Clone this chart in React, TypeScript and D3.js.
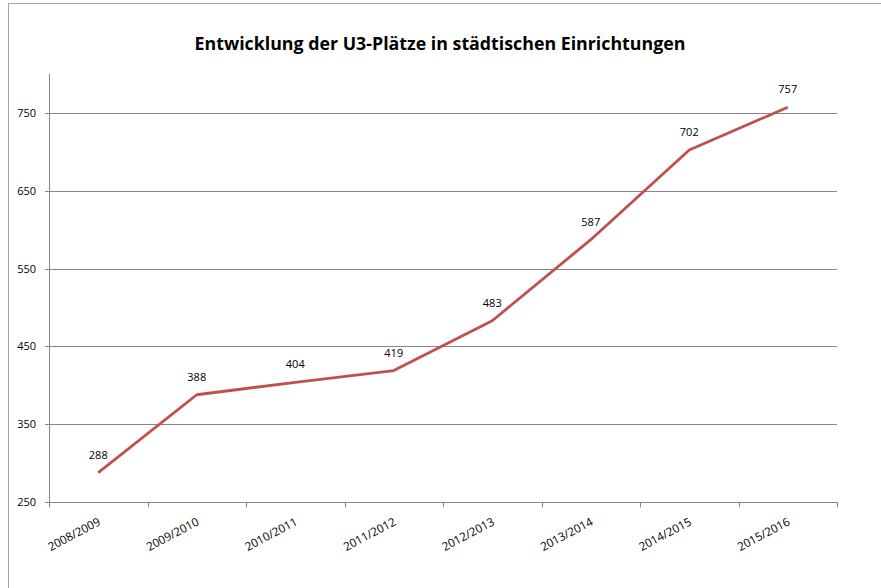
import React from "react";
import * as d3 from "d3";

const categories = ["2008/2009", "2009/2010", "2010/2011", "2011/2012", "2012/2013", "2013/2014", "2014/2015", "2015/2016"];
const values = [288, 388, 404, 419, 483, 587, 702, 757];
const yTicks = [250, 350, 450, 550, 650, 750];
const title = "Entwicklung der U3-Plätze in städtischen Einrichtungen";

export default function App() {
  const W = 881, H = 588;
  const left = 49, right = 837, top = 73.7, bottom = 502.3;
  const x = d3.scaleBand<string>().domain(categories).range([left, right]);
  const y = d3.scaleLinear().domain([250, 800]).range([bottom, top]);
  const cx = (c: string) => (x(c) as number) + x.bandwidth() / 2;
  const line = d3.line<number>().x((_, i) => cx(categories[i])).y((v) => y(v));
  const font = "'Open Sans', sans-serif";
  const tickX = categories.map((c) => x(c) as number).concat([right]);
  return (
    <svg width={W} height={H} style={{ position: "absolute", left: 0, top: 0 }} fontFamily={font}>
      <rect x={0} y={0} width={W} height={H} fill="#fff" />
      <rect x={8.5} y={3.5} width={W + 20} height={H + 20} fill="none" stroke="#a6a6a6" strokeWidth={1} />
      <text x={440} y={50} textAnchor="middle" fontSize={17.8} fontWeight="bold" fill="#000">{title}</text>
      {yTicks.slice(1).map((t) => (
        <line key={t} x1={left} x2={right} y1={Math.round(y(t)) + 0.5} y2={Math.round(y(t)) + 0.5} stroke="#868686" strokeWidth={1} />
      ))}
      <line x1={left + 0.5} x2={left + 0.5} y1={top} y2={bottom} stroke="#868686" />
      <line x1={left} x2={right} y1={Math.round(bottom) + 0.5} y2={Math.round(bottom) + 0.5} stroke="#868686" />
      {yTicks.map((t) => (
        <g key={t}>
          <line x1={left - 4} x2={left} y1={Math.round(y(t)) + 0.5} y2={Math.round(y(t)) + 0.5} stroke="#868686" />
          <text x={36} y={y(t) + 4} textAnchor="end" fontSize={11} fill="#000">{t}</text>
        </g>
      ))}
      {tickX.map((tx, i) => (
        <line key={i} x1={Math.round(tx) + 0.5} x2={Math.round(tx) + 0.5} y1={bottom} y2={bottom + 5} stroke="#868686" />
      ))}
      {categories.map((c) => (
        <text key={c} transform={`translate(${cx(c) + 3},${bottom + 22}) rotate(-28)`} textAnchor="end" fontSize={11.6} fill="#000">{c}</text>
      ))}
      <path d={line(values) || ""} fill="none" stroke="#c0504d" strokeWidth={2.8} strokeLinejoin="round" />
      {values.map((v, i) => (
        <text key={i} x={cx(categories[i])} y={y(v) - 14} textAnchor="middle" fontSize={11} fill="#000">{v}</text>
      ))}
    </svg>
  );
}
